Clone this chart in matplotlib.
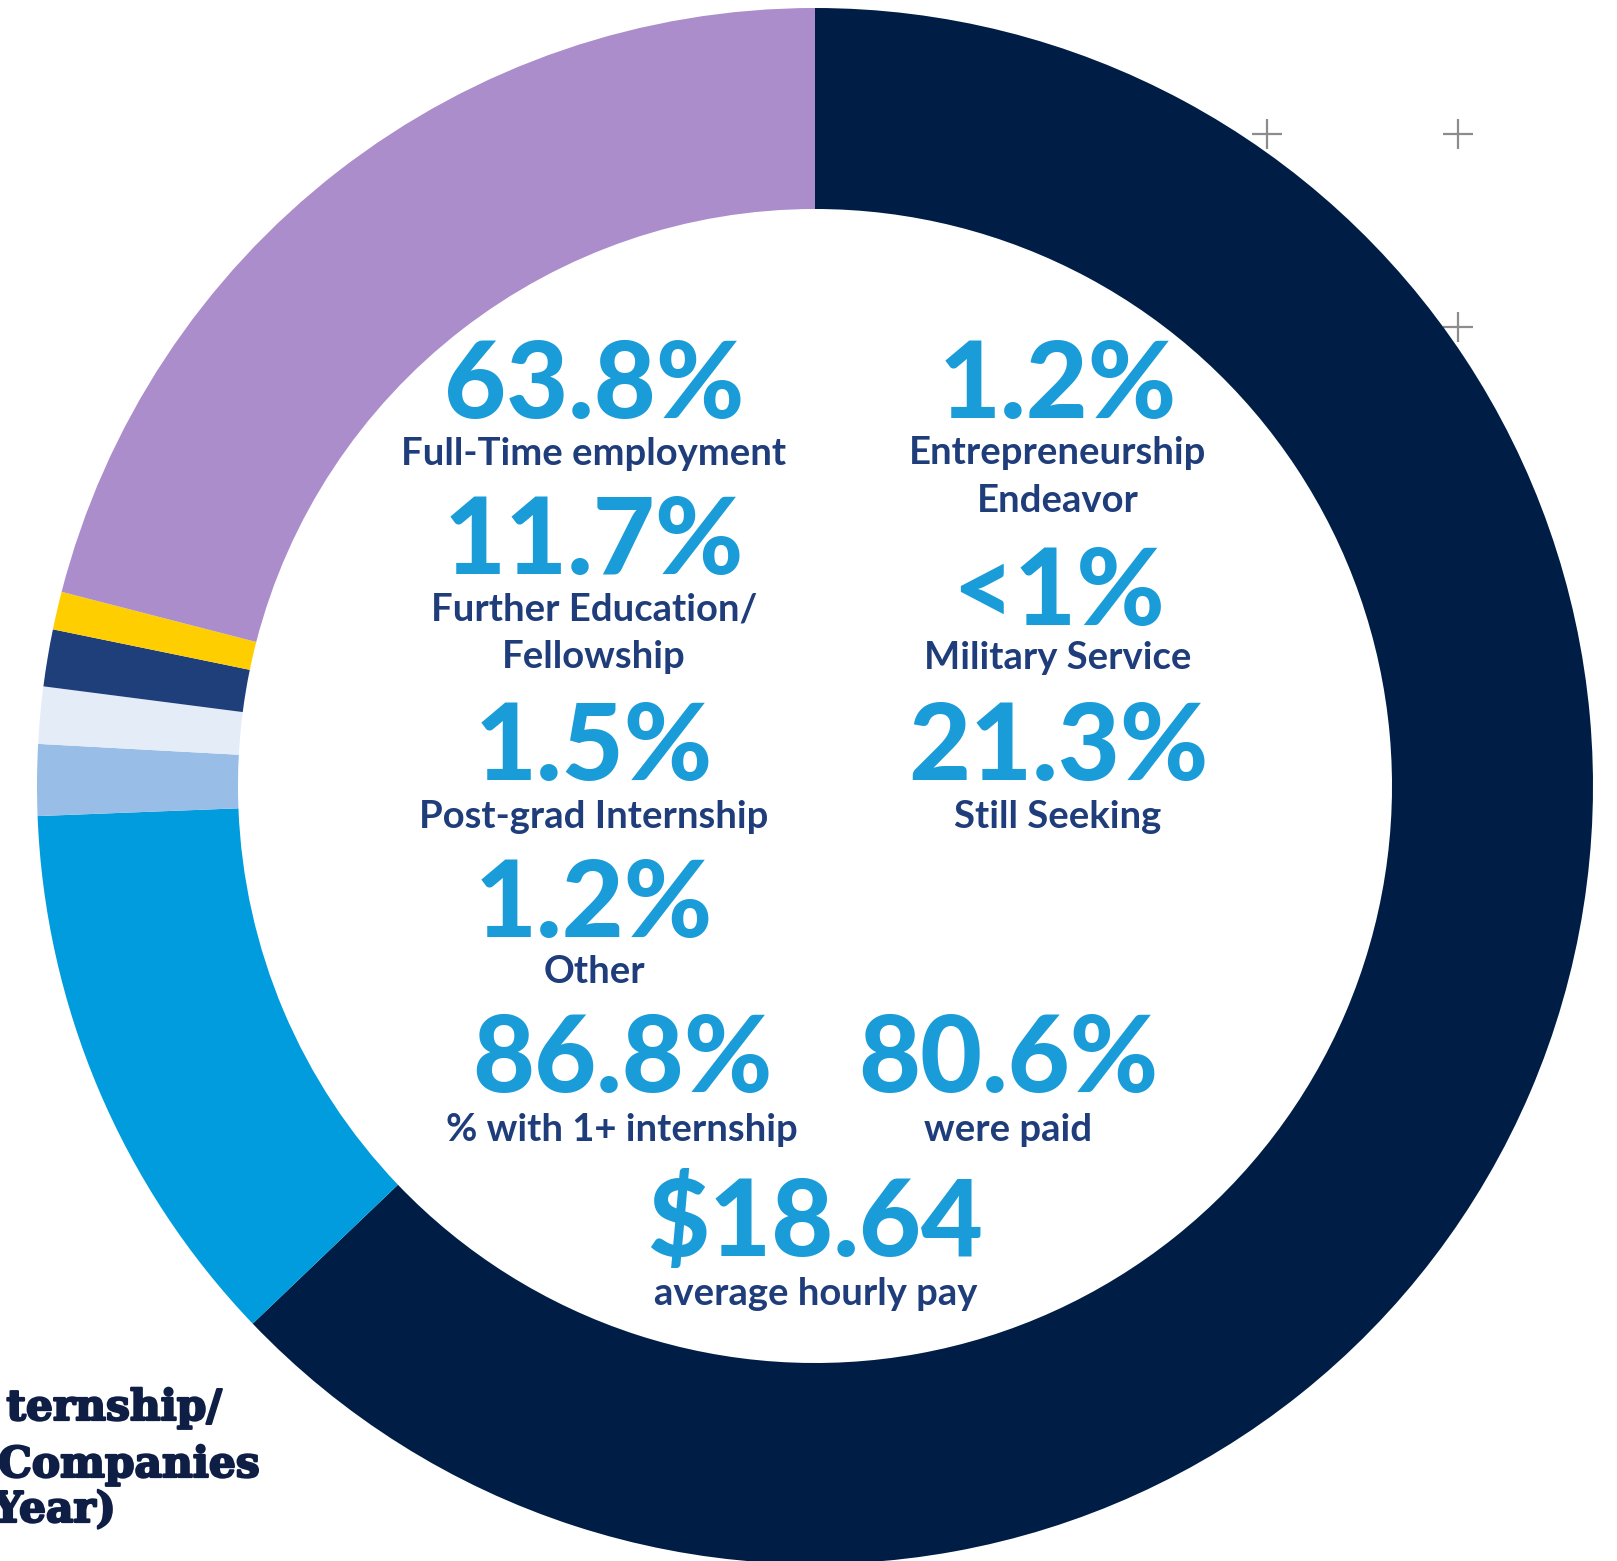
import matplotlib.pyplot as plt
import matplotlib.patheffects as pe

# donut segments, clockwise from 12 o'clock
segments = ["Full-Time employment", "Further Education/Fellowship",
            "Post-grad Internship", "Other", "Entrepreneurship Endeavor",
            "Military Service", "Still Seeking"]
shares = [63.8, 11.7, 1.5, 1.2, 1.2, 0.8, 21.3]
ring_colors = ["#001E45", "#009CDE", "#98BDE6", "#E3ECF7",
               "#1F3F7B", "#FFCE00", "#AB8DCC"]

# figures written inside the ring
left_stats = [("63.8%", "Full-Time employment"),
              ("11.7%", "Further Education/\nFellowship"),
              ("1.5%", "Post-grad Internship"),
              ("1.2%", "Other")]
right_stats = [("1.2%", "Entrepreneurship\nEndeavor"),
               ("<1%", "Military Service"),
               ("21.3%", "Still Seeking")]
intern_stats = [("86.8%", "% with 1+ internship"),
                ("80.6%", "were paid")]
pay_stat = ("$18.64", "average hourly pay")

side_text = ["ternship/", "Companies", "Year)"]

W, H = 1617, 1561
NUM_C = "#1A9CD8"
LAB_C = "#1F3D7A"
NAVY = "#0E1E45"


def Y(y):
    return H - y


fig = plt.figure(figsize=(W / 100, H / 100), dpi=100)
ax = fig.add_axes([0, 0, 1, 1])

cx, cy, R, w = 815, 786, 778, 201
ax.pie(shares, colors=ring_colors, startangle=90, counterclock=False,
       radius=R, center=(cx, Y(cy)),
       wedgeprops=dict(width=w, linewidth=0, antialiased=True), frame=False)

# decorative crosses behind the ring
ax.plot([1267, 1458, 1458], [Y(134), Y(134), Y(327)], ls="none", marker="+",
        markersize=22, markeredgewidth=1.6, color="#8C8C8C", zorder=0)

num_kw = dict(color=NUM_C, family="Lato", weight="black", fontsize=77,
              ha="center", va="center")
lab_kw = dict(color=LAB_C, family="Lato", weight="bold", fontsize=27.5,
              ha="center", va="center", linespacing=1.5)

left_y = [(387, 454), (543, 633), (749, 817), (906, 972)]
for (num, lab), (yn, yl) in zip(left_stats, left_y):
    ax.text(594, Y(yn), num, **num_kw)
    ax.text(594, Y(yl), lab, **lab_kw)

right_y = [(387, 477), (594, 658), (749, 817)]
for (num, lab), (yn, yl) in zip(right_stats, right_y):
    ax.text(1058, Y(yn), num, **num_kw)
    ax.text(1058, Y(yl), lab, **lab_kw)

for (num, lab), x in zip(intern_stats, [622, 1008]):
    ax.text(x, Y(1061), num, **num_kw)
    ax.text(x, Y(1130), lab, **lab_kw)

ax.text(815, Y(1224), pay_stat[0], **num_kw)
ax.text(816, Y(1294), pay_stat[1], **lab_kw)

# clipped heading at the lower left
heavy = [pe.withStroke(linewidth=1.6, foreground=NAVY)]
for s, x, yb in zip(side_text, [222, 260, 116], [1420, 1477, 1522]):
    ax.text(x, Y(yb), s, color=NAVY, family="DejaVu Serif", weight="bold",
            fontsize=30.5, ha="right", va="baseline", path_effects=heavy)

ax.set_xlim(0, W)
ax.set_ylim(0, H)
ax.set_aspect("equal")
ax.axis("off")

fig.savefig("out.png", dpi=100, facecolor="white")
